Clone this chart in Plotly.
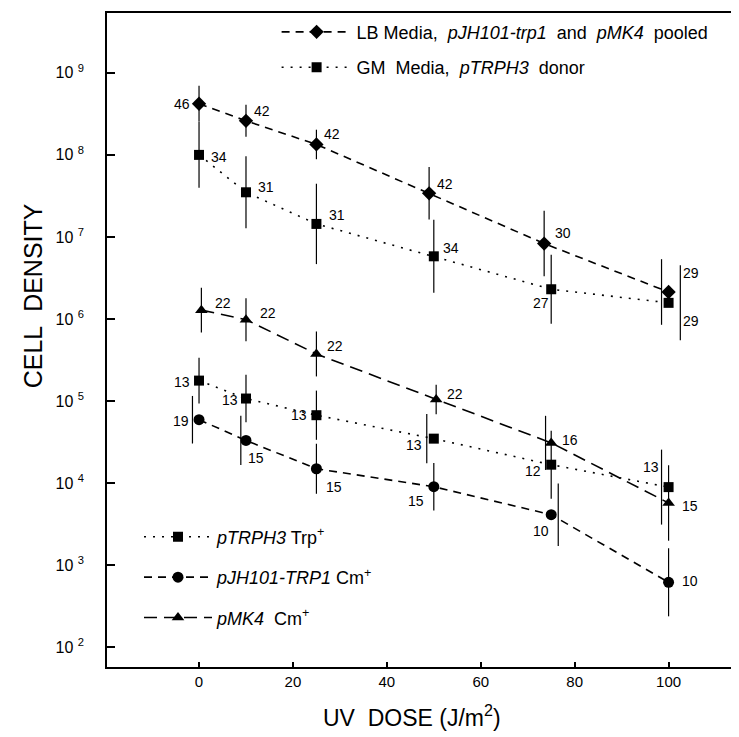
import math
import plotly.graph_objects as go

# ---------------- data ----------------
# LB Media, pJH101-trp1 and pMK4 pooled (diamonds)
lb_dose = [0, 10, 25, 49, 73.5, 100]
lb_density = [4.2e8, 2.6e8, 1.34e8, 3.4e7, 8.3e6, 2.13e6]
lb_err_dose = [0, 10, 25, 49, 73.5, 98.5]
lb_err_log = [0.22, 0.195, 0.18, 0.32, 0.40, 0.40]
lb_n = ["46", "42", "42", "42", "30", "29"]

# GM Media, pTRPH3 donor (squares)
gm_dose = [0, 10, 25, 50, 75, 100]
gm_density = [1.0e8, 3.5e7, 1.44e7, 5.8e6, 2.3e6, 1.57e6]
gm_err_dose = [0, 10, 25, 50, 75, 102.5]
gm_err_log = [0.40, 0.44, 0.49, 0.445, 0.42, 0.457]
gm_n = ["34", "31", "31", "34", "27", "29"]

# pMK4 Cm+ (triangles)
mk4_dose = [0.5, 10, 25, 50.5, 75, 100]
mk4_density = [1.28e6, 9.8e5, 3.74e5, 1.04e5, 3.08e4, 5.7e3]
mk4_err_dose = [0.5, 10, 25, 50.5, 73.8, 100]
mk4_err_log = [0.274, 0.262, 0.274, 0.18, 0.33, 0.46]
mk4_n = ["22", "22", "22", "22", "16", "15"]

# pTRPH3 Trp+ (squares)
trp_dose = [0, 10, 25, 50, 75, 100]
trp_density = [1.77e5, 1.07e5, 6.7e4, 3.47e4, 1.67e4, 8.9e3]
trp_err_dose = [0, 10, 25, 48.5, 75, 98.5]
trp_err_log = [0.28, 0.29, 0.30, 0.30, 0.415, 0.457]
trp_n = ["13", "13", "13", "13", "12", "13"]

# pJH101-TRP1 Cm+ (circles)
jh_dose = [0, 10, 25, 50, 75, 100]
jh_density = [5.9e4, 3.3e4, 1.49e4, 9.0e3, 4.1e3, 615]
jh_err_dose = [-1.4, 8.9, 25, 50, 76.5, 100]
jh_err_log = [0.29, 0.30, 0.305, 0.29, 0.38, 0.415]
jh_n = ["19", "15", "15", "15", "10", "10"]

x_ticks = [0, 20, 40, 60, 80, 100]
y_exponents = [2, 3, 4, 5, 6, 7, 8, 9]

# ---------------- styling / layout helpers ----------------
FONT = "Liberation Sans, Arial, Helvetica, sans-serif"

# label pixel offsets (dx right, dy up) for the sample-size numbers
lb_lab_off = [(-17, 0), (16, 10), (16, 10), (16, 9), (19, 11), (22, 19)]
gm_lab_off = [(20, -2), (20, 5), (21, 9), (17, 8), (-10, -14), (22, -18)]
mk4_lab_off = [(22, 7), (22, 7), (19, 8), (19, 6), (19, 3), (21, -3)]
trp_lab_off = [(-17, -1), (-16, -1), (-17, 0), (-20, -6), (-18, -6), (-18, 20)]
jh_lab_off = [(-18, -1), (10, -18), (18, -18), (-18, -14), (-10, -16), (21, 1)]

series = [
    dict(name="LB Media,\u00a0\u00a0<i>pJH101-trp1</i>\u00a0\u00a0and\u00a0\u00a0<i>pMK4</i>\u00a0\u00a0pooled",
         x=lb_dose, y=lb_density, ex=lb_err_dose, el=lb_err_log, n=lb_n, off=lb_lab_off,
         symbol="diamond", size=11, dash="8px,6px", legend="legend"),
    dict(name="GM\u00a0\u00a0Media,\u00a0\u00a0<i>pTRPH3</i>\u00a0\u00a0donor",
         x=gm_dose, y=gm_density, ex=gm_err_dose, el=gm_err_log, n=gm_n, off=gm_lab_off,
         symbol="square", size=10, dash="2px,7px", legend="legend"),
    dict(name="<i>pTRPH3</i> Trp<sup>+</sup>",
         x=trp_dose, y=trp_density, ex=trp_err_dose, el=trp_err_log, n=trp_n, off=trp_lab_off,
         symbol="square", size=10, dash="2px,7px", legend="legend2"),
    dict(name="<i>pJH101-TRP1</i> Cm<sup>+</sup>",
         x=jh_dose, y=jh_density, ex=jh_err_dose, el=jh_err_log, n=jh_n, off=jh_lab_off,
         symbol="circle", size=11, dash="8px,6px", legend="legend2"),
    dict(name="<i>pMK4</i>\u00a0\u00a0Cm<sup>+</sup>",
         x=mk4_dose, y=mk4_density, ex=mk4_err_dose, el=mk4_err_log, n=mk4_n, off=mk4_lab_off,
         symbol="triangle-up", size=11, dash="13px,7px", legend="legend2"),
]

fig = go.Figure()
annotations = []
for i, s in enumerate(series):
    plus = [v * (10 ** h - 1) for v, h in zip(s["y"], s["el"])]
    minus = [v * (1 - 10 ** (-h)) for v, h in zip(s["y"], s["el"])]
    # error bars (drawn at their own dose positions, as in the original)
    fig.add_trace(go.Scatter(
        x=s["ex"], y=s["y"], mode="markers",
        marker=dict(size=1, color="rgba(0,0,0,0)"),
        error_y=dict(type="data", symmetric=False, array=plus, arrayminus=minus,
                     color="black", thickness=1.2, width=0),
        showlegend=False, hoverinfo="skip"))
    fig.add_trace(go.Scatter(
        x=s["x"], y=s["y"], mode="lines+markers", name=s["name"],
        line=dict(color="black", width=1.6, dash=s["dash"]),
        marker=dict(symbol=s["symbol"], size=s["size"], color="black"),
        legend=s["legend"], legendgroup="g%d" % i))
    for xv, yv, t, (dx, dy) in zip(s["x"], s["y"], s["n"], s["off"]):
        annotations.append(dict(
            x=xv, y=math.log10(yv), xref="x", yref="y", text=t, showarrow=False,
            xanchor="center", yanchor="middle", xshift=dx, yshift=dy,
            font=dict(family=FONT, size=14, color="black")))

annotations.append(dict(
    text="CELL\u00a0\u00a0DENSITY", xref="paper", yref="paper", x=-0.116, y=0.568,
    textangle=-90, showarrow=False, xanchor="center", yanchor="middle",
    font=dict(family=FONT, size=25, color="black")))
annotations.append(dict(
    text="UV\u00a0\u00a0DOSE\u00a0(J/m<sup>2</sup>)", xref="paper", yref="paper", x=0.477, y=-0.075,
    showarrow=False, xanchor="center", yanchor="middle",
    font=dict(family=FONT, size=23, color="black")))

fig.update_layout(
    width=739, height=737,
    margin=dict(l=99, r=0, t=5, b=78),
    paper_bgcolor="white", plot_bgcolor="white",
    font=dict(family=FONT, size=14, color="black"),
    annotations=annotations,
    showlegend=True,
    legend=dict(x=0.265, y=0.999, xanchor="left", yanchor="top",
                bgcolor="rgba(0,0,0,0)", font=dict(family=FONT, size=18),
                itemwidth=70, tracegroupgap=9, traceorder="grouped"),
    legend2=dict(x=0.050, y=0.227, xanchor="left", yanchor="top",
                 bgcolor="rgba(0,0,0,0)", font=dict(family=FONT, size=18),
                 itemwidth=68, tracegroupgap=14, traceorder="grouped"),
)
fig.update_xaxes(
    range=[-19.6, 116.7], tickvals=x_ticks, ticktext=[str(v) for v in x_ticks],
    ticks="inside", ticklen=5, tickwidth=1.5, tickcolor="black",
    showline=True, linewidth=1.6, linecolor="black", mirror=True,
    showgrid=False, zeroline=False, ticklabelstandoff=0,
    tickfont=dict(family=FONT, size=15))
fig.update_yaxes(
    type="log", range=[1.756, 9.73],
    tickvals=[10 ** e for e in y_exponents],
    ticktext=["10 <sup>%d</sup>" % e for e in y_exponents],
    ticks="inside", ticklen=8, tickwidth=1.5, tickcolor="black",
    showline=True, linewidth=1.6, linecolor="black", mirror=False,
    showgrid=False, zeroline=False, ticklabelstandoff=18,
    tickfont=dict(family=FONT, size=16))

fig.write_html("out.html")
